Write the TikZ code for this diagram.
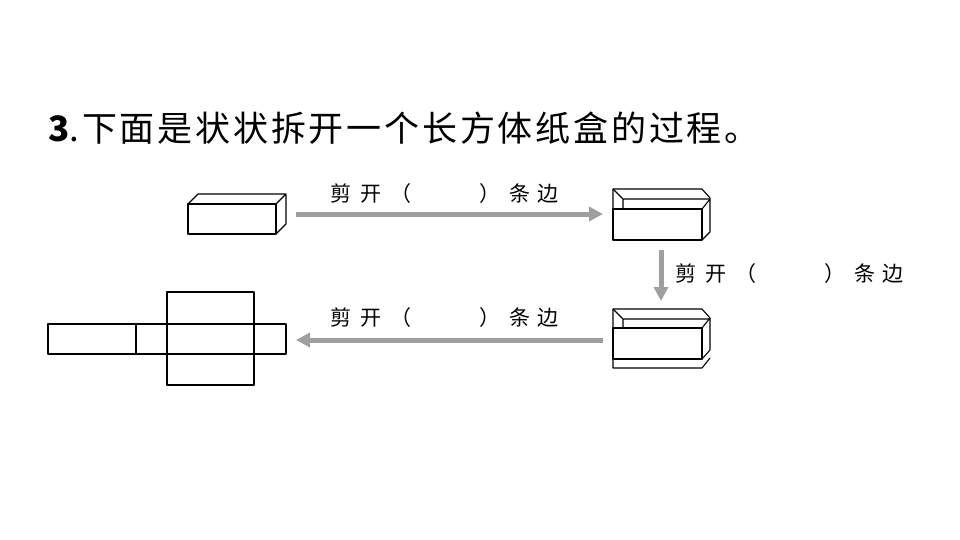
\documentclass[tikz,border=0pt]{standalone}
\usepackage{fontspec}
\usetikzlibrary{arrows.meta}
\newfontfamily\cjk{Noto Sans CJK SC}
\newfontfamily\cjkt[LetterSpace=8]{Noto Sans CJK SC}
\begin{document}
\begin{tikzpicture}[x=1pt,y=-1pt,
  ln/.style={line width=1.1pt,line join=round},
  arr/.style={draw=gray!75,line width=5pt,-{Triangle[length=14pt,width=14pt]}},
  lab/.style={font=\cjk\fontsize{21}{22}\selectfont,inner sep=0pt}]
\useasboundingbox (0,0) rectangle (960,540);
\node[anchor=west,inner sep=0pt,font=\cjkt\fontsize{35}{37}\selectfont] (title) at (48,128) {\textbf{3}.下面是状状拆开一个长方体纸盒的过程。};
% box 1
\draw[ln] (188,204) rectangle (276,234);
\draw[ln] (188,204) -- (198,194) -- (286,194) -- (286,224) -- (276,234) (276,204) -- (286,194);
\coordinate (b1) at (296,214);
% box 2
\draw[ln] (613,209) rectangle (702,240);
\draw[ln] (613,209) -- (613,189) -- (702,189) -- (710,198) -- (710,232) -- (702,240) (702,209) -- (710,199);
\draw[ln] (613,189) -- (623,199) -- (710,199) (623,199) -- (623,209);
\coordinate (b2) at (603,214);
\coordinate (b2s) at (661,250);
% box 3
\draw[ln] (613,328) rectangle (702,359);
\draw[ln] (613,328) -- (613,309) -- (702,309) -- (710,318) -- (710,350) -- (702,359) (702,328) -- (710,318);
\draw[ln] (613,309) -- (623,319) -- (710,319) (623,319) -- (623,328);
\draw[ln] (613,359) -- (613,368) -- (702,368) -- (710,358);
\coordinate (b3n) at (661,301);
\coordinate (b3) at (603,340);
% net
\draw[ln] (48,324) rectangle (286,354);
\draw[ln] (136,324) -- (136,354) (167,292) rectangle (254,385) (167,324) -- (254,324) (167,354) -- (254,354);
\coordinate (net) at (296,340);
% arrows
\draw[arr] (b1) -- (b2);
\draw[arr] (b2s) -- (b3n);
\draw[arr] (b3) -- (net);
\node[lab,anchor=west] (t1) at (330,194) {剪\hspace{9pt}开\hspace{9pt}（\hspace{68pt}）\hspace{9pt}条\hspace{7pt}边};
\node[lab,anchor=west] (t2) at (675,274) {剪\hspace{9pt}开\hspace{9pt}（\hspace{68pt}）\hspace{9pt}条\hspace{7pt}边};
\node[lab,anchor=west] (t3) at (330,318) {剪\hspace{9pt}开\hspace{9pt}（\hspace{68pt}）\hspace{9pt}条\hspace{7pt}边};
\end{tikzpicture}
\end{document}
